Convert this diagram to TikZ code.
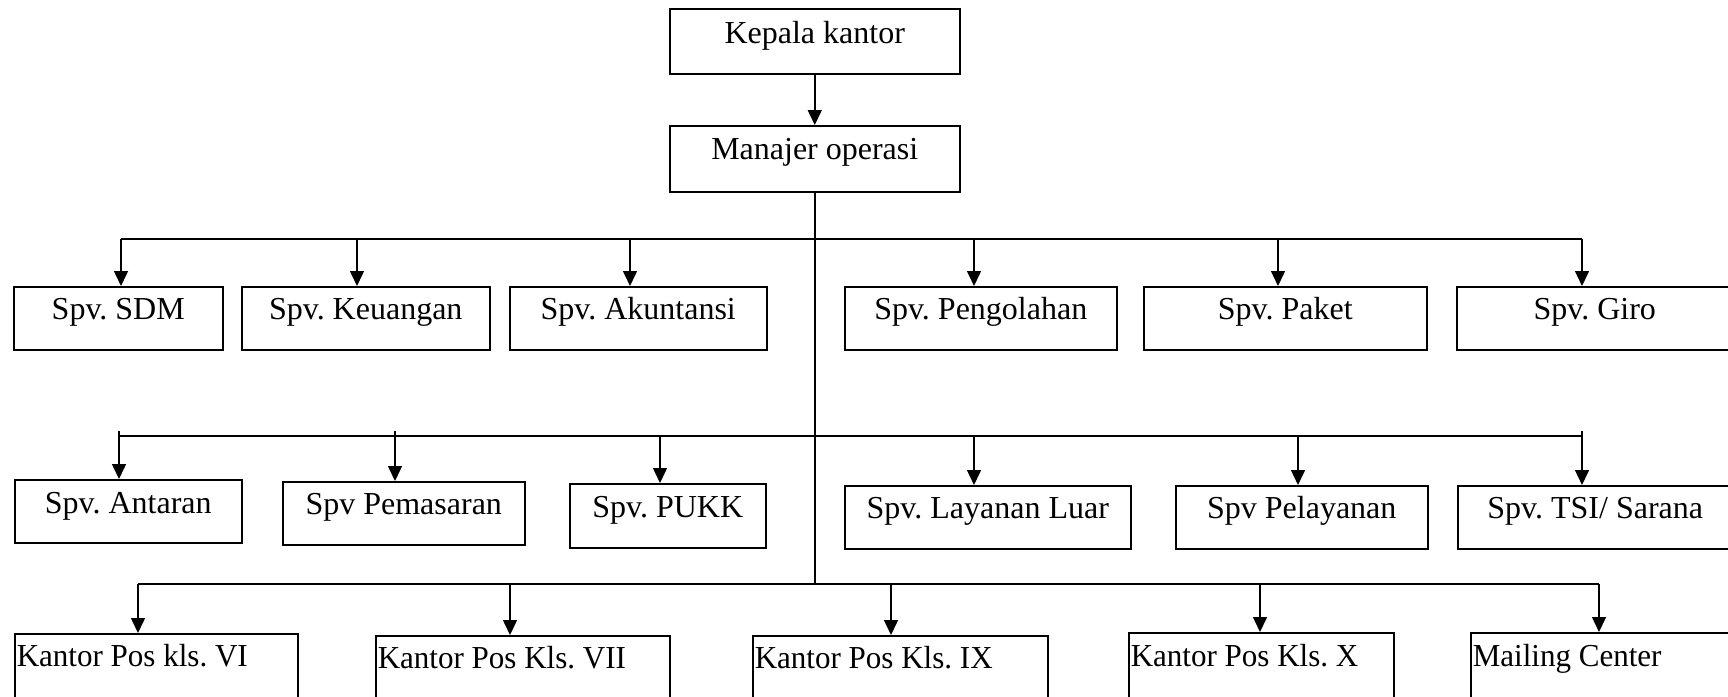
\documentclass[tikz,border=0pt]{standalone}
\usepackage{fontspec}
\setmainfont{Liberation Serif}
\newfontfamily\narrowserif[FakeStretch=0.97]{Liberation Serif}
\usetikzlibrary{arrows.meta}
\frenchspacing
\begin{document}
\begin{tikzpicture}[x=1pt,y=-1pt,
  org/.style={draw, line width=1.5pt, inner xsep=0pt, inner ysep=0pt, anchor=north west,
    font=\fontsize{32pt}{38pt}\selectfont\frenchspacing},
  orgL/.style={org, inner xsep=2pt, align=flush left, font=\narrowserif\fontsize{32pt}{38pt}\selectfont\frenchspacing},
  arr/.style={line width=1.5pt, -{Triangle[length=15pt,width=14pt]}},
  ln/.style={line width=1.5pt}]
\useasboundingbox (0,0) rectangle (1728,696);
\clip (0,0) rectangle (1728,696);
% top
\node[org, minimum width=290pt, text height=35pt, text depth=30pt] (kk) at (669,8) {Kepala kantor};
\node[org, minimum width=290pt, text height=34pt, text depth=32pt] (mo) at (669,125) {Manajer operasi};
% row 1
\node[org, minimum width=209pt, text height=33pt, text depth=30pt] (sdm) at (13,286) {Spv. SDM};
\node[org, minimum width=248pt, text height=33pt, text depth=30pt] (keu) at (241,286) {Spv. Keuangan};
\node[org, minimum width=257pt, text height=33pt, text depth=30pt] (aku) at (509,286) {Spv. Akuntansi};
\node[org, minimum width=272pt, text height=33pt, text depth=30pt] (peng) at (844,286) {Spv. Pengolahan};
\node[org, minimum width=283pt, text height=33pt, text depth=30pt] (pak) at (1143,286) {Spv. Paket};
\node[org, minimum width=276pt, text height=33pt, text depth=30pt] (giro) at (1456,286) {Spv. Giro};
% row 2
\node[org, minimum width=227pt, text height=34pt, text depth=29pt] (ant) at (14,479) {Spv. Antaran};
\node[org, minimum width=242pt, text height=33pt, text depth=30pt] (pem) at (282,481) {Spv Pemasaran};
\node[org, minimum width=196pt, text height=34pt, text depth=30pt] (pukk) at (569,483) {Spv. PUKK};
\node[org, minimum width=286pt, text height=33pt, text depth=30pt] (lay) at (844,485) {Spv. Layanan Luar};
\node[org, minimum width=252pt, text height=33pt, text depth=30pt] (pel) at (1175,485) {Spv Pelayanan};
\node[org, minimum width=275pt, text height=33pt, text depth=30pt] (tsi) at (1457,485) {Spv. TSI/ Sarana};
% row 3
\node[orgL, text width=279pt, text height=33pt, text depth=70pt] (k6) at (14,633) {Kantor Pos kls. VI};
\node[orgL, text width=290pt, text height=33pt, text depth=70pt] (k7) at (375,635) {Kantor Pos Kls. VII};
\node[orgL, text width=291pt, text height=33pt, text depth=70pt] (k9) at (752,635) {Kantor Pos Kls. IX};
\node[orgL, text width=261pt, text height=34pt, text depth=70pt] (k10) at (1128,632) {Kantor Pos Kls. X};
\node[orgL, text width=270pt, text height=34pt, text depth=70pt] (mc) at (1470,632) {Mailing Center};
% connectors
\draw[arr] (kk.south) -- (mo.north);
\coordinate (t3) at (810,584);
\draw[ln] (mo.south) -- (mo.south |- t3);
% row 1 bar
\coordinate (r1a) at (121,239);
\coordinate (r1b) at (357,239);
\coordinate (r1c) at (630,239);
\coordinate (r1d) at (974,239);
\coordinate (r1e) at (1278,239);
\coordinate (r1f) at (1582,239);
\draw[ln] (r1a) -- (r1f);
\draw[arr] (r1a) -- (r1a |- sdm.north);
\draw[arr] (r1b) -- (r1b |- keu.north);
\draw[arr] (r1c) -- (r1c |- aku.north);
\draw[arr] (r1d) -- (r1d |- peng.north);
\draw[arr] (r1e) -- (r1e |- pak.north);
\draw[arr] (r1f) -- (r1f |- giro.north);
% row 2 bar
\coordinate (r2L) at (119,436);
\coordinate (r2R) at (1582,436);
\coordinate (r2a) at (119,431);
\coordinate (r2b) at (395,431);
\coordinate (r2c) at (660,436);
\coordinate (r2d) at (974,436);
\coordinate (r2e) at (1298,436);
\coordinate (r2f) at (1582,431);
\draw[ln] (r2L) -- (r2R);
\draw[arr] (r2a) -- (r2a |- ant.north);
\draw[arr] (r2b) -- (r2b |- pem.north);
\draw[arr] (r2c) -- (r2c |- pukk.north);
\draw[arr] (r2d) -- (r2d |- lay.north);
\draw[arr] (r2e) -- (r2e |- pel.north);
\draw[arr] (r2f) -- (r2f |- tsi.north);
% row 3 bar
\coordinate (r3a) at (138,584);
\coordinate (r3b) at (510,584);
\coordinate (r3c) at (891,584);
\coordinate (r3d) at (1260,584);
\coordinate (r3e) at (1599,584);
\draw[ln] (r3a) -- (r3e);
\draw[arr] (r3a) -- (r3a |- k6.north);
\draw[arr] (r3b) -- (r3b |- k7.north);
\draw[arr] (r3c) -- (r3c |- k9.north);
\draw[arr] (r3d) -- (r3d |- k10.north);
\draw[arr] (r3e) -- (r3e |- mc.north);
\end{tikzpicture}
\end{document}
